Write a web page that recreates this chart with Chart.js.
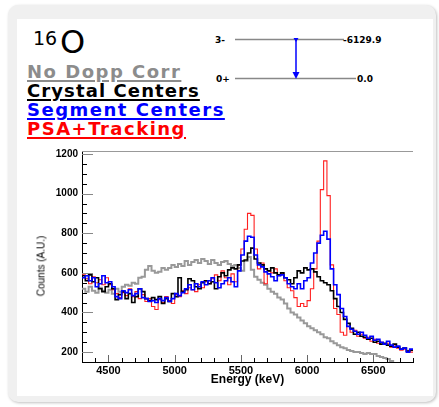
<!DOCTYPE html>
<html>
<head>
<meta charset="utf-8">
<script src="https://cdn.jsdelivr.net/npm/chart.js@4/dist/chart.umd.min.js"></script>
<style>
  body { margin: 0; width: 439px; height: 407px; background: #fff; overflow: hidden; position: relative; }
  #frame { position: absolute; left: 8px; top: 5px; width: 428px; height: 397px; background: #f0f0f0; border-radius: 10px; box-shadow: 1px 1px 3px rgba(0,0,0,0.25); }
  #panel { position: absolute; left: 17px; top: 19px; width: 416px; height: 377px; background: #fff; }
  .leg { position: absolute; left: 27px; font: bold 18px "DejaVu Sans"; line-height: 18px; letter-spacing: 1.5px; text-decoration: underline; text-decoration-thickness: 2px; text-underline-offset: 2px; white-space: nowrap; }
  #iso { position: absolute; left: 33px; top: 29px; font: 19px "DejaVu Sans"; line-height: 19px; }
  #el { position: absolute; left: 60px; top: 26px; font: 32px "DejaVu Sans"; line-height: 32px; }
  #levels { position: absolute; left: 0; top: 0; }
  #c { position: absolute; left: 20px; top: 141px; }
  #ytitle { position: absolute; left: 41px; top: 266px; font: 10px "Liberation Sans"; white-space: nowrap; transform: translate(-50%, -50%) rotate(-90deg); }
</style>
</head>
<body>
<div id="frame"></div>
<div id="panel"></div>
<span id="iso">16</span><span id="el">O</span>
<div class="leg" style="top:63px;color:#8c8c8c">No Dopp Corr</div>
<div class="leg" style="top:82px;color:#000;letter-spacing:1.1px">Crystal Centers</div>
<div class="leg" style="top:101px;color:#0000ff">Segment Centers</div>
<div class="leg" style="top:120px;color:#ff0000">PSA+Tracking</div>

<svg id="levels" width="439" height="100">
  <line x1="235" y1="39.5" x2="344" y2="39.5" stroke="#888" stroke-width="1.5"/>
  <line x1="235" y1="78.5" x2="356" y2="78.5" stroke="#888" stroke-width="1.5"/>
  <text x="215" y="43" font-family="DejaVu Sans" font-weight="bold" font-size="9">3-</text>
  <text x="216" y="82" font-family="DejaVu Sans" font-weight="bold" font-size="9">0+</text>
  <text x="343" y="43" font-family="DejaVu Sans" font-weight="bold" font-size="9">-6129.9</text>
  <text x="357" y="82" font-family="DejaVu Sans" font-weight="bold" font-size="9">0.0</text>
  <line x1="296" y1="39" x2="296" y2="73" stroke="#0000ff" stroke-width="1.5"/>
  <path d="M293.5,38 L298.5,38 L296,42 Z" fill="#0000ff"/>
  <path d="M292.5,72 L299.5,72 L296,79 Z" fill="#0000ff"/>
</svg>

<canvas id="c" width="400" height="255"></canvas>
<div id="ytitle">Counts (A.U.)</div>

<script>
// histogram bins: 25 keV wide, left edges from 4300 keV
const binStart = 4300;
const binWidth = 25;

// y tick positions (labels on multiples of 200)
const yTicks = [150, 200, 250, 300, 350, 400, 450, 500, 550, 600, 650,
                700, 750, 800, 850, 900, 950, 1000, 1050, 1100, 1150, 1200];

const noDoppCorr = [
  520, 505, 530, 510, 500, 525, 510, 500, 515, 495,
  520, 505, 530, 540, 535, 550, 545, 575, 580, 615,
  635, 610, 600, 605, 625, 615, 625, 640, 630, 645,
  635, 660, 640, 655, 665, 650, 670, 660, 645, 665,
  650, 640, 655, 660, 645, 635, 640, 625, 610, 660,
  680, 615, 580, 565, 550, 540, 520, 505, 495, 475,
  465, 445, 420, 400, 390, 375, 360, 345, 330, 320,
  310, 300, 290, 275, 270, 255, 245, 235, 225, 220,
  210, 205, 200, 200, 195, 190, 195, 190, 190, 180,
  175, 170, 165, 155, 145, 140, 135, 130, 125, 120
];

const crystalCenters = [
  585, 560, 590, 555, 575, 520, 505, 530, 545, 520,
  465, 490, 505, 470, 495, 450, 480, 520, 505, 470,
  460, 475, 465, 480, 445, 470, 455, 495, 480, 575,
  505, 515, 570, 560, 530, 520, 550, 560, 545, 555,
  520, 580, 600, 585, 615, 625, 620, 640, 660, 665,
  700, 725, 670, 650, 640, 620, 610, 625, 600, 590,
  600, 575, 565, 545, 575, 610, 600, 625, 615, 620,
  605, 580, 560, 550, 540, 510, 470, 430, 400, 365,
  345, 320, 290, 300, 280, 275, 265, 270, 250, 255,
  240, 245, 235, 230, 240, 225, 215, 220, 205, 210
];

const segmentCenters = [
  575, 585, 560, 575, 530, 545, 585, 550, 555, 530,
  480, 470, 510, 500, 515, 485, 495, 520, 475, 470,
  455, 460, 450, 470, 460, 475, 455, 470, 495, 485,
  500, 520, 540, 515, 545, 530, 555, 540, 560, 575,
  550, 525, 545, 560, 575, 555, 530, 610, 690, 760,
  785, 780, 690, 640, 630, 605, 595, 580, 560, 585,
  590, 575, 545, 530, 520, 545, 520, 560, 575, 650,
  700, 750, 790, 810, 770, 620, 540, 490, 420, 380,
  330, 315, 305, 290, 300, 285, 270, 280, 260, 265,
  250, 240, 255, 235, 225, 230, 215, 220, 200, 215
];

const psaTracking = [
  590, 570, 545, 580, 550, 565, 540, 575, 540, 515,
  495, 475, 500, 485, 520, 480, 505, 470, 490, 455,
  470, 430, 415, 465, 450, 480, 460, 445, 490, 480,
  510, 495, 525, 515, 505, 540, 525, 555, 545, 570,
  590, 560, 610, 575, 540, 595, 555, 640, 720, 820,
  900, 890, 720, 620, 650, 545, 610, 600, 620, 585,
  595, 560, 525, 510, 475, 430, 445, 430, 460, 520,
  620, 760, 1020, 1165, 990, 640, 420, 390, 300, 285,
  330, 300, 310, 280, 290, 270, 275, 255, 265, 245,
  250, 240, 245, 225, 230, 220, 210, 215, 205, 200
];

const xMin = 4300, xMax = 6800;
const yMin = 150, yMax = 1215;

// turn bin contents into step points (left edges + closing right edge)
function toSteps(values) {
  const pts = values.map((v, i) => ({ x: binStart + i * binWidth, y: v }));
  pts.push({ x: binStart + values.length * binWidth, y: values[values.length - 1] });
  return pts;
}

// ROOT-like ticks drawn inside the frame, plus the grey top line
const insideTicks = {
  id: 'insideTicks',
  afterDraw(chart) {
    const { ctx, chartArea: a, scales: { x, y } } = chart;
    ctx.save();
    ctx.lineWidth = 1;
    x.ticks.forEach(t => {
      if (t.value % 100 !== 0) return;
      const px = Math.round(x.getPixelForValue(t.value)) + 0.5;
      const len = t.value % 500 === 0 ? 7 : 4;
      ctx.strokeStyle = t.value % 500 === 0 ? '#666' : '#000';
      ctx.beginPath();
      ctx.moveTo(px, a.bottom);
      ctx.lineTo(px, a.bottom - len);
      ctx.stroke();
    });
    y.ticks.forEach(t => {
      const py = Math.round(y.getPixelForValue(t.value)) + 0.5;
      const major = t.value % 200 === 0;
      ctx.strokeStyle = major ? '#888' : '#000';
      ctx.beginPath();
      ctx.moveTo(a.left, py);
      ctx.lineTo(a.left + (major ? 11 : 5), py);
      ctx.stroke();
    });
    ctx.strokeStyle = '#999';
    ctx.beginPath();
    ctx.moveTo(a.left, a.top + 0.5);
    ctx.lineTo(a.right, a.top + 0.5);
    ctx.stroke();
    ctx.restore();
  }
};

const ctx = document.getElementById('c').getContext('2d');
new Chart(ctx, {
  type: 'line',
  data: {
    datasets: [
      { label: 'Segment Centers', data: toSteps(segmentCenters), borderColor: '#0000ff', borderWidth: 1.6, order: 0 },
      { label: 'Crystal Centers', data: toSteps(crystalCenters), borderColor: '#000000', borderWidth: 1.6, order: 1 },
      { label: 'PSA+Tracking', data: toSteps(psaTracking), borderColor: '#ff2020', borderWidth: 1.1, order: 2 },
      { label: 'No Dopp Corr', data: toSteps(noDoppCorr), borderColor: '#999999', borderWidth: 2, order: 3 }
    ]
  },
  options: {
    responsive: false,
    animation: false,
    events: [],
    datasets: { line: { stepped: 'before', pointRadius: 0, fill: false, tension: 0 } },
    layout: { padding: { top: 8, right: 7, left: 0, bottom: 0 } },
    plugins: { legend: { display: false }, tooltip: { enabled: false } },
    scales: {
      x: {
        type: 'linear', min: xMin, max: xMax,
        grid: { display: false, drawTicks: false },
        border: { display: true, color: '#000', width: 1 },
        ticks: {
          stepSize: 100, autoSkip: false, maxRotation: 0, padding: 2, color: '#000',
          font: { family: 'Liberation Sans', weight: 'bold', size: 11 },
          callback: v => (v % 500 === 0 ? String(v) : '')
        },
        title: {
          display: true, text: 'Energy (keV)', color: '#000',
          font: { family: 'Liberation Sans', weight: 'bold', size: 12 },
          padding: { top: 0, bottom: 9 }
        },
        afterFit: s => { s.height = 34; }
      },
      y: {
        type: 'linear', min: yMin, max: yMax,
        grid: { display: false, drawTicks: false },
        border: { display: true, color: '#000', width: 1 },
        afterBuildTicks: s => { s.ticks = yTicks.map(v => ({ value: v })); },
        ticks: {
          autoSkip: false, padding: 4, color: '#000',
          font: { family: 'Liberation Sans', weight: 'bold', size: 10 },
          callback: v => (v % 200 === 0 ? String(v) : '')
        },
        afterFit: s => { s.width = 62; }
      }
    }
  },
  plugins: [insideTicks]
});
</script>
</body>
</html>
